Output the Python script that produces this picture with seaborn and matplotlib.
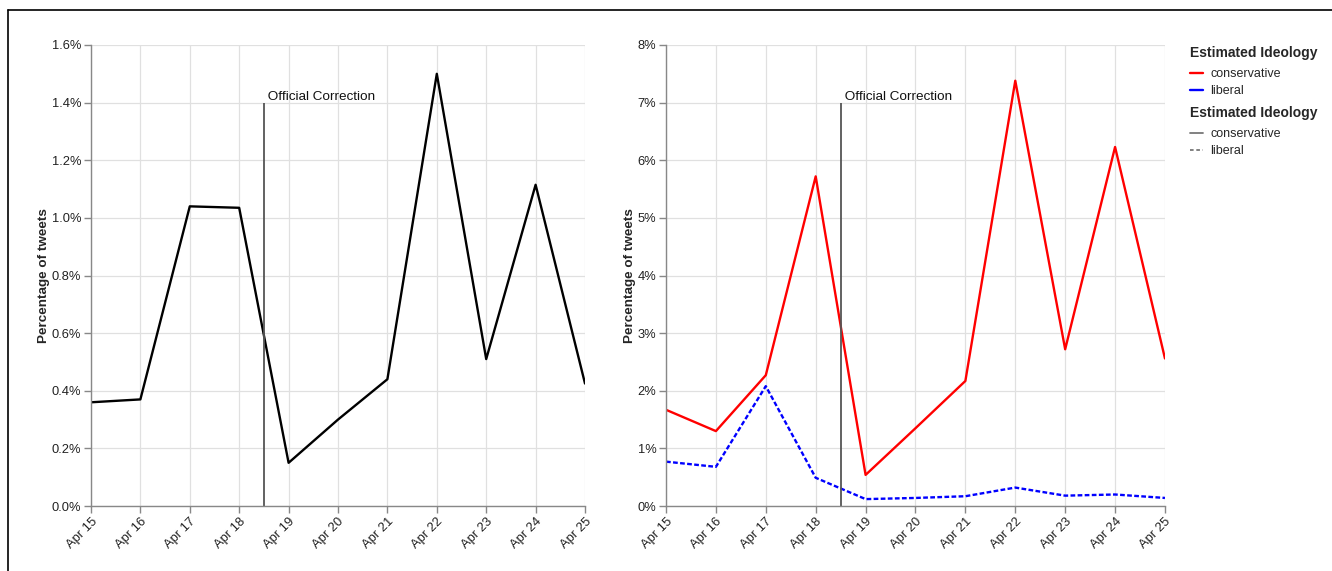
import pandas as pd
import matplotlib
matplotlib.use('Agg')
import matplotlib.pyplot as plt
import matplotlib.dates as mdates
from matplotlib.ticker import PercentFormatter
from matplotlib.lines import Line2D
import seaborn as sns

# Data (percent of tweets per day)
days = ['2013-04-15', '2013-04-16', '2013-04-17', '2013-04-18', '2013-04-19', '2013-04-20',
        '2013-04-21', '2013-04-22', '2013-04-23', '2013-04-24', '2013-04-25']
overall = [0.36, 0.37, 1.04, 1.035, 0.15, 0.30, 0.44, 1.50, 0.51, 1.115, 0.425]
conservative = [1.67, 1.30, 2.27, 5.72, 0.54, 1.35, 2.17, 7.38, 2.72, 6.23, 2.56]
liberal = [0.77, 0.68, 2.08, 0.49, 0.12, 0.14, 0.17, 0.32, 0.18, 0.20, 0.14]
correction_day = '2013-04-18 12:00'

dates = pd.to_datetime(days)
df_all = pd.DataFrame({'date': dates, 'pct': overall})
df_ideo = pd.concat([
    pd.DataFrame({'date': dates, 'pct': conservative, 'ideology': 'conservative'}),
    pd.DataFrame({'date': dates, 'pct': liberal, 'ideology': 'liberal'}),
])

sns.set_theme(style='white')
plt.rcParams['font.family'] = ['Liberation Sans', 'DejaVu Sans']

fig = plt.figure(figsize=(13.32, 5.71), dpi=100)
ax1 = fig.add_axes([0.0683, 0.1138, 0.3709, 0.8074])
ax2 = fig.add_axes([0.5, 0.1138, 0.3746, 0.8074])

sns.lineplot(data=df_all, x='date', y='pct', ax=ax1, color='black', linewidth=1.7)
sns.lineplot(data=df_ideo, x='date', y='pct', hue='ideology', style='ideology', ax=ax2,
             palette={'conservative': '#ff0000', 'liberal': '#0000ff'},
             dashes={'conservative': '', 'liberal': (2, 1)}, linewidth=1.7, legend=False)

corr = pd.Timestamp(correction_day)
for ax, ymax, top, dec in [(ax1, 1.6, 1.4, 1), (ax2, 8, 7, 0)]:
    ax.set_xlim(dates[0], dates[-1])
    ax.set_ylim(0, ymax)
    if dec:
        ax.set_yticks([i * 0.2 for i in range(9)])
    else:
        ax.set_yticks(range(9))
    ax.yaxis.set_major_formatter(PercentFormatter(decimals=dec))
    ax.xaxis.set_major_locator(mdates.DayLocator())
    ax.xaxis.set_major_formatter(mdates.DateFormatter('%b %d'))
    ax.grid(True, color='#e0e0e0', linewidth=0.9)
    ax.set_axisbelow(True)
    for s in ['top', 'right']:
        ax.spines[s].set_visible(False)
    for s in ['left', 'bottom']:
        ax.spines[s].set_color('#888888')
        ax.spines[s].set_linewidth(1)
    ax.tick_params(axis='both', which='both', length=5, width=1, color='#888888',
                   labelsize=9.3, labelcolor='#222222', left=True, bottom=True, pad=2)
    plt.setp(ax.get_xticklabels(), rotation=45, ha='right', rotation_mode='anchor')
    ax.set_xlabel('')
    ax.set_ylabel('Percentage of tweets', fontsize=9.7, fontweight='bold', labelpad=1)
    ax.vlines(corr, 0, top, color='#555555', linewidth=1.3)
    ax.text(corr, top, ' Official Correction', fontsize=9.7, ha='left', va='bottom',
            color='#111111')

# two legends like the reference (colour, then line style)
legend_opts = dict(loc='upper left', frameon=False, fontsize=9, handlelength=1.0,
                   handletextpad=0.6, labelspacing=0.4, borderaxespad=0, borderpad=0,
                   title_fontproperties={'weight': 'bold', 'size': 10})
leg1 = fig.legend(handles=[Line2D([], [], color='#ff0000', lw=1.7),
                           Line2D([], [], color='#0000ff', lw=1.7)],
                  labels=['conservative', 'liberal'], title='Estimated Ideology',
                  bbox_to_anchor=(0.8934, 0.92), **legend_opts)
leg1._legend_box.align = 'left'
leg1._legend_box.sep = 6
leg2 = fig.legend(handles=[Line2D([], [], color='#777777', lw=1.3),
                           Line2D([], [], color='#777777', lw=1.3, ls=(0, (2, 1.5)))],
                  labels=['conservative', 'liberal'], title='Estimated Ideology',
                  bbox_to_anchor=(0.8934, 0.815), **legend_opts)
leg2._legend_box.align = 'left'
leg2._legend_box.sep = 6

# thin frame on left and top edges
fig.add_artist(Line2D([0.006, 0.006], [0, 0.983], color='black', lw=1.2))
fig.add_artist(Line2D([0.006, 1], [0.983, 0.983], color='black', lw=1.2))

fig.savefig('out.png', dpi=100)
